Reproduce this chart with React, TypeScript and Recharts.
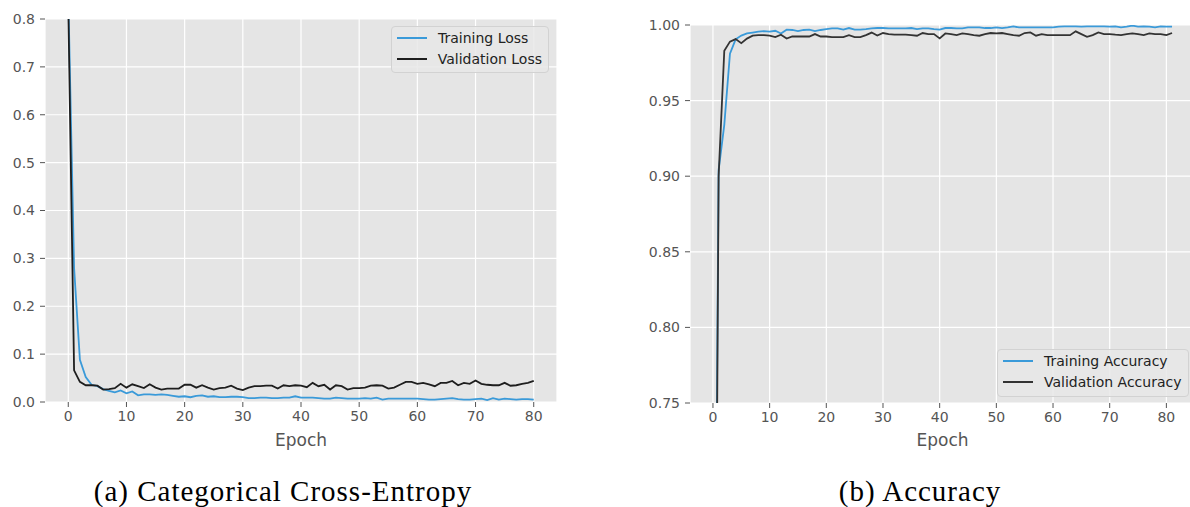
import { LineChart, Line, XAxis, YAxis, CartesianGrid, Legend } from 'recharts';

const EPOCH_TICKS = [0, 10, 20, 30, 40, 50, 60, 70, 80];
const LOSS_TICKS = [0, 0.1, 0.2, 0.3, 0.4, 0.5, 0.6, 0.7, 0.8];
const ACC_TICKS = [0.75, 0.8, 0.85, 0.9, 0.95, 1.0];

// epochs 0..80
const trainLoss = [
  0.85, 0.28, 0.088, 0.052, 0.036, 0.033, 0.027, 0.023, 0.02, 0.024,
  0.018, 0.022, 0.014, 0.016, 0.016, 0.015, 0.016, 0.015, 0.013, 0.011,
  0.012, 0.01, 0.013, 0.014, 0.011, 0.012, 0.01, 0.01, 0.011, 0.011,
  0.01, 0.008, 0.008, 0.009, 0.009, 0.008, 0.008, 0.009, 0.009, 0.012,
  0.009, 0.009, 0.009, 0.008, 0.007, 0.007, 0.009, 0.008, 0.007, 0.007,
  0.007, 0.008, 0.007, 0.009, 0.005, 0.007, 0.007, 0.007, 0.007, 0.007,
  0.007, 0.006, 0.005, 0.005, 0.006, 0.007, 0.008, 0.006, 0.005, 0.005,
  0.006, 0.007, 0.004, 0.008, 0.005, 0.007, 0.006, 0.005, 0.006, 0.006,
  0.005,
];
const valLoss = [
  0.83, 0.066, 0.042, 0.035, 0.035, 0.034, 0.026, 0.027, 0.029, 0.038,
  0.03, 0.037, 0.033, 0.029, 0.037, 0.03, 0.026, 0.028, 0.028, 0.028,
  0.036, 0.036, 0.03, 0.035, 0.03, 0.026, 0.029, 0.03, 0.034, 0.028,
  0.025, 0.03, 0.033, 0.033, 0.034, 0.034, 0.028, 0.035, 0.033, 0.035,
  0.034, 0.031, 0.04, 0.033, 0.036, 0.026, 0.035, 0.033, 0.026, 0.029,
  0.029, 0.03, 0.034, 0.035, 0.034, 0.028, 0.03, 0.036, 0.042, 0.042,
  0.038, 0.04, 0.037, 0.033, 0.04, 0.04, 0.044, 0.035, 0.04, 0.038,
  0.045, 0.038, 0.036, 0.035, 0.035, 0.04, 0.034, 0.035, 0.038, 0.04,
  0.044,
];

// epochs 0..81
const trainAcc = [
  0.4, 0.904, 0.934, 0.981, 0.9905, 0.993, 0.9944, 0.995, 0.9956, 0.996,
  0.9956, 0.9962, 0.9944, 0.9969, 0.9967, 0.996, 0.9967, 0.997, 0.996, 0.9967,
  0.9973, 0.9978, 0.9978, 0.997, 0.998, 0.997, 0.997, 0.9973, 0.9978, 0.998,
  0.998, 0.9978, 0.9978, 0.9978, 0.9978, 0.998, 0.9973, 0.9978, 0.9978, 0.9973,
  0.9969, 0.998, 0.998, 0.9978, 0.9978, 0.9984, 0.9984, 0.9984, 0.998, 0.998,
  0.9984, 0.998, 0.9984, 0.9991, 0.9984, 0.9984, 0.9984, 0.9984, 0.9984, 0.9984,
  0.9984, 0.9989, 0.9991, 0.9991, 0.9991, 0.9989, 0.9991, 0.9991, 0.9991, 0.9991,
  0.9989, 0.9991, 0.9984, 0.9989, 0.9996, 0.9989, 0.9991, 0.9989, 0.9984, 0.9991,
  0.9989, 0.9989,
];
const valAcc = [
  0.3, 0.9, 0.983, 0.989, 0.9907, 0.988, 0.991, 0.993, 0.9933, 0.9933,
  0.993, 0.992, 0.9936, 0.991, 0.9924, 0.9924, 0.9924, 0.9924, 0.994, 0.9924,
  0.9924, 0.992, 0.992, 0.992, 0.9933, 0.992, 0.992, 0.9933, 0.995, 0.993,
  0.9947, 0.994, 0.9936, 0.9936, 0.9936, 0.9933, 0.9929, 0.9947, 0.994, 0.994,
  0.9911, 0.9944, 0.994, 0.9933, 0.9944, 0.994, 0.9933, 0.9929, 0.994, 0.9947,
  0.9944, 0.9947, 0.994, 0.9933, 0.9929, 0.9947, 0.9951, 0.9929, 0.994, 0.9933,
  0.9933, 0.9933, 0.9933, 0.9933, 0.9958, 0.994, 0.9922, 0.9933, 0.9951, 0.994,
  0.994, 0.9936, 0.9933, 0.994, 0.9944, 0.994, 0.9933, 0.9944, 0.994, 0.994,
  0.9933, 0.9947,
];

const BLUE = '#3a9ad9';
const TICK = { fill: '#555', fontSize: 14 };

const lossData = trainLoss.map((v, i) => ({ epoch: i, train: v, val: valLoss[i] }));
const accData = trainAcc.map((v, i) => ({ epoch: i, train: v, val: valAcc[i] }));

function LegendBox({ payload }: any) {
  return (
    <div
      style={{
        background: 'rgba(232,232,232,0.85)',
        border: '1px solid #d2d2d2',
        borderRadius: 4,
        padding: '0 6px 0 5px',
        boxSizing: 'border-box',
        height: '100%',
      }}
    >
      {(payload || []).map((p: any) => (
        <div key={p.value} style={{ display: 'flex', alignItems: 'center', height: 21.5 }}>
          <span style={{ display: 'inline-block', width: 30, height: 2, background: p.color }} />
          <span style={{ marginLeft: 11, fontSize: 14, color: '#222', whiteSpace: 'nowrap' }}>
            {p.value}
          </span>
        </div>
      ))}
    </div>
  );
}

const caption: React.CSSProperties = {
  position: 'absolute',
  top: 477,
  fontFamily: '"Liberation Serif", serif',
  fontSize: 29,
  lineHeight: '29px',
  letterSpacing: 1,
  textAlign: 'center',
  color: '#000',
};

export default function App() {
  return (
    <div
      style={{
        position: 'absolute',
        left: 0,
        top: 0,
        width: 1190,
        height: 507,
        overflow: 'hidden',
        background: '#fff',
        fontFamily: '"DejaVu Sans", sans-serif',
      }}
    >
      {/* (a) loss */}
      <div style={{ position: 'absolute', left: 0, top: 0 }}>
        <LineChart width={580} height={460} data={lossData} margin={{ top: 19, right: 23, bottom: 0, left: 0 }}>
          <CartesianGrid stroke="#fff" strokeWidth={1.2} fill="#e5e5e5" />
          <XAxis
            dataKey="epoch"
            type="number"
            domain={[-4, 84]}
            ticks={EPOCH_TICKS}
            allowDataOverflow
            height={58}
            axisLine={false}
            tickSize={5}
            tickMargin={4}
            tickLine={{ stroke: '#555' }}
            tick={TICK}
            label={{ value: 'Epoch', position: 'insideBottom', offset: 14, fill: '#555', fontSize: 17 }}
          />
          <YAxis
            type="number"
            domain={[0, 0.8]}
            ticks={LOSS_TICKS}
            allowDataOverflow
            width={45}
            axisLine={false}
            tickSize={5}
            tickMargin={5}
            tickLine={{ stroke: '#555' }}
            tick={TICK}
            tickFormatter={(v: number) => v.toFixed(1)}
          />
          <Legend
            layout="horizontal"
            verticalAlign="middle"
            align="center"
            wrapperStyle={{ left: 391, top: 26, width: 158, height: 47 }}
            content={LegendBox}
          />
          <Line dataKey="train" name="Training Loss" stroke={BLUE} strokeWidth={1.8} dot={false} isAnimationActive={false} />
          <Line dataKey="val" name="Validation Loss" stroke="#1e1e1e" strokeWidth={1.8} dot={false} isAnimationActive={false} />
        </LineChart>
      </div>

      {/* (b) accuracy */}
      <div style={{ position: 'absolute', left: 600, top: 0 }}>
        <LineChart width={610} height={461} data={accData} margin={{ top: 25, right: 15, bottom: 0, left: 0 }}>
          <CartesianGrid stroke="#fff" strokeWidth={1.2} fill="#e5e5e5" />
          <XAxis
            dataKey="epoch"
            type="number"
            domain={[-4.05, 85.05]}
            ticks={EPOCH_TICKS}
            allowDataOverflow
            height={58}
            axisLine={false}
            tickSize={5}
            tickMargin={4}
            tickLine={{ stroke: '#555' }}
            tick={TICK}
            label={{ value: 'Epoch', position: 'insideBottom', offset: 15, fill: '#555', fontSize: 17 }}
          />
          <YAxis
            type="number"
            domain={[0.75, 1.0]}
            ticks={ACC_TICKS}
            allowDataOverflow
            width={90}
            axisLine={false}
            tickSize={5}
            tickMargin={5}
            tickLine={{ stroke: '#555' }}
            tick={TICK}
            tickFormatter={(v: number) => v.toFixed(2)}
          />
          <Legend
            layout="horizontal"
            verticalAlign="middle"
            align="center"
            wrapperStyle={{ left: 397, top: 349, width: 192, height: 48 }}
            content={LegendBox}
          />
          <Line dataKey="train" name="Training Accuracy" stroke={BLUE} strokeWidth={1.8} dot={false} isAnimationActive={false} />
          <Line dataKey="val" name="Validation Accuracy" stroke="#333" strokeWidth={1.8} dot={false} isAnimationActive={false} />
        </LineChart>
      </div>

      <div style={{ ...caption, left: 0, width: 566 }}>(a) Categorical Cross-Entropy</div>
      <div style={{ ...caption, left: 780, width: 280 }}>(b) Accuracy</div>
    </div>
  );
}
